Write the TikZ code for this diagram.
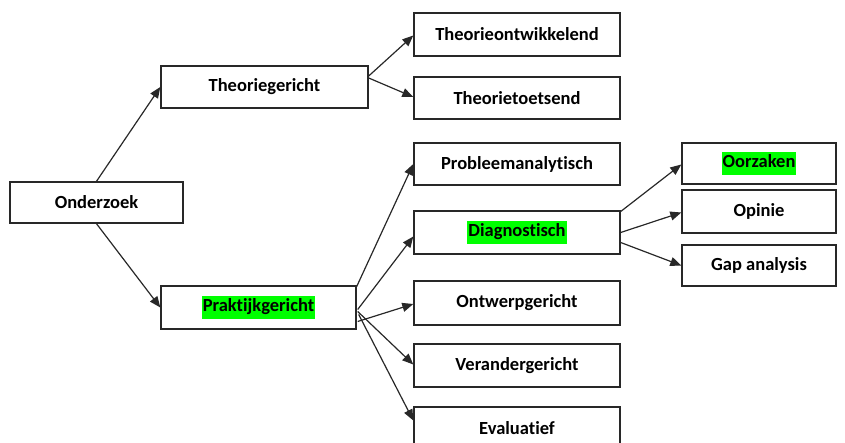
\documentclass[tikz,border=0pt]{standalone}
\usepackage{fontspec}
\setmainfont[Ligatures={NoCommon}]{Carlito}
\usetikzlibrary{arrows.meta}
\definecolor{hlgreen}{RGB}{0,255,0}
\definecolor{boxline}{RGB}{40,40,40}
\newcommand{\hl}[1]{{\setlength{\fboxsep}{1pt}\colorbox{hlgreen}{\strut #1}}}
\tikzset{
  box/.style={draw=boxline, line width=1.4pt, fill=white, inner sep=0pt,
    font=\fontsize{18.5}{21}\selectfont\bfseries, text=black},
  colbox/.style={box, minimum width=206pt},
  farbox/.style={box, minimum width=154pt},
  link/.style={draw=boxline, line width=1.2pt, -{Triangle[length=11pt,width=9pt]}},
}
\begin{document}
\begin{tikzpicture}[x=1pt,y=-1pt]
\useasboundingbox (0,0) rectangle (845,443);

% root and first level
\node[box, minimum width=173pt, minimum height=41pt] (onder) at (96.5,202.5) {Onderzoek};
\node[box, minimum width=207pt, minimum height=42pt] (theo) at (264.5,87) {Theoriegericht};
\node[box, minimum width=195pt, minimum height=43pt] (prak) at (258.5,307.5) {\hl{Praktijkgericht}};

% second level
\node[colbox, minimum height=43pt] (tont) at (517,34.5) {Theorieontwikkelend};
\node[colbox, minimum height=42pt] (ttoe) at (517,98) {Theorietoetsend};
\node[colbox, minimum height=42pt] (prob) at (517,164) {Probleemanalytisch};
\node[colbox, minimum height=43pt] (diag) at (517,232.5) {\hl{Diagnostisch}};
\node[colbox, minimum height=44pt] (ontw) at (517,303) {Ontwerpgericht};
\node[colbox, minimum height=43pt] (vera) at (517,365.5) {Verandergericht};
\node[colbox, minimum height=43pt] (eval) at (517,428.5) {Evaluatief};

% third level
\node[farbox, minimum height=41pt] (oorz) at (759,163.5) {\hl{Oorzaken}};
\node[farbox, minimum height=43pt] (opin) at (759,211.5) {Opinie};
\node[farbox, minimum height=41pt] (gap) at (759,265.5) {Gap analysis};

% connectors
\draw[link] (onder.north) -- (theo.west);
\draw[link] (onder.south) -- (prak.west);

\draw[link] ([yshift=11pt]theo.east) -- ([yshift=-1pt]tont.west);
\draw[link] ([yshift=9pt]theo.east) -- ([yshift=1pt]ttoe.west);

\draw[link] ([yshift=21pt]prak.east) -- (prob.west);
\draw[link] ([xshift=1pt,yshift=-2pt]prak.east) -- ([yshift=-4pt]diag.west);
\draw[link] ([xshift=1pt,yshift=-14pt]prak.east) -- ([yshift=-1pt]ontw.west);
\draw[link] ([xshift=1pt,yshift=-4pt]prak.east) -- ([yshift=1pt]vera.west);
\draw[link] ([xshift=2pt,yshift=-7pt]prak.east) -- ([yshift=8pt]eval.west);

\draw[link] ([yshift=21pt]diag.east) -- ([yshift=-1pt]oorz.west);
\draw[link] (diag.east) -- ([yshift=-1pt]opin.west);
\draw[link] ([yshift=-10pt]diag.east) -- (gap.west);
\end{tikzpicture}
\end{document}
